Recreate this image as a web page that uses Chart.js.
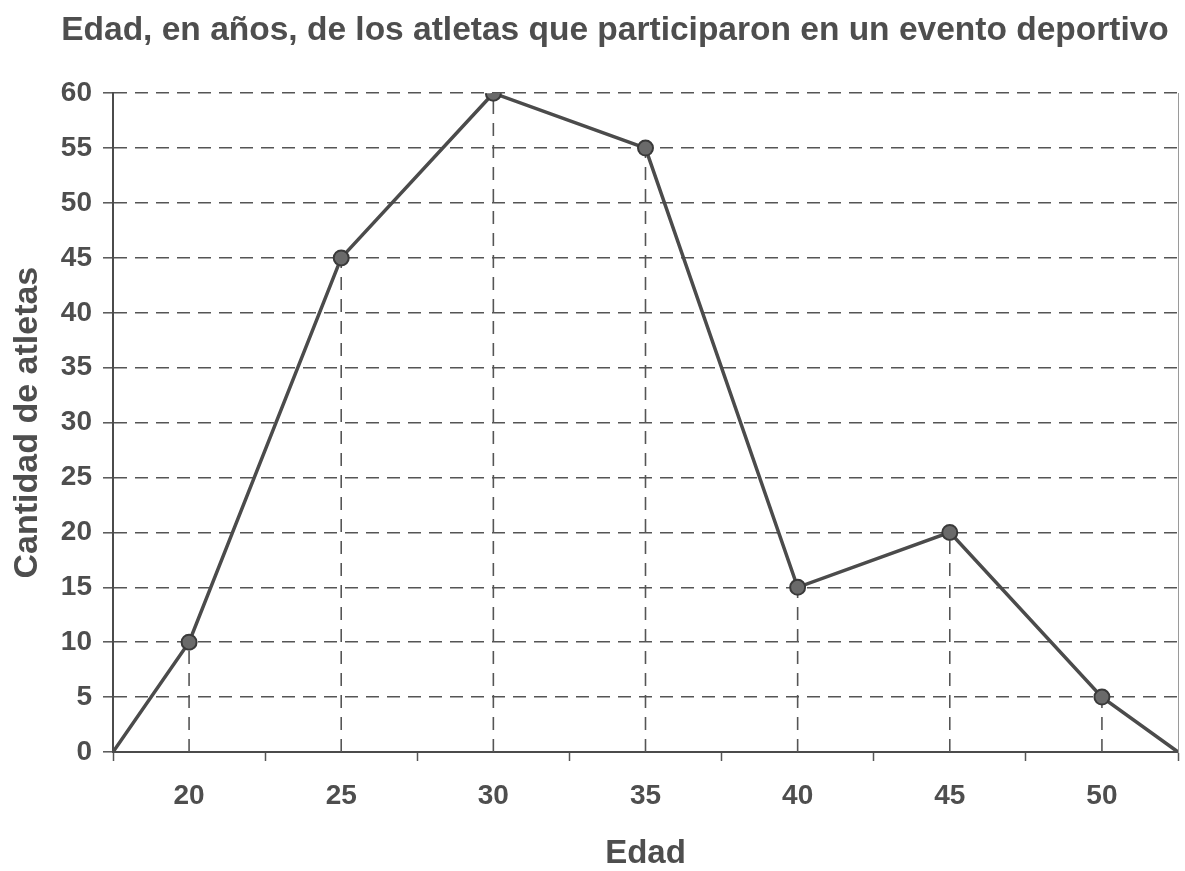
<!DOCTYPE html>
<html>
<head>
<meta charset="utf-8">
<script src="https://cdn.jsdelivr.net/npm/chart.js@4/dist/chart.umd.min.js"></script>
<style>
  html, body { margin: 0; padding: 0; background: #ffffff; }
  #wrap { width: 1185px; height: 871px; }
</style>
</head>
<body>
<div id="wrap"><canvas id="c" width="1185" height="871"></canvas></div>
<script>
// ---- Data ----
const titulo = 'Edad, en años, de los atletas que participaron en un evento deportivo';
const tituloX = 'Edad';
const tituloY = 'Cantidad de atletas';
const edades = [20, 25, 30, 35, 40, 45, 50];          // marcas de clase
const cantidades = [10, 45, 60, 55, 15, 20, 5];       // cantidad de atletas
const extremos = [17.5, 52.5];                        // cierre del polígono (cantidad 0)
const ticksX = [20, 25, 30, 35, 40, 45, 50];
const ticksY = [0, 5, 10, 15, 20, 25, 30, 35, 40, 45, 50, 55, 60];

// ---- Build datasets ----
const poligono = [{x: extremos[0], y: 0}]
  .concat(edades.map((e, i) => ({x: e, y: cantidades[i]})))
  .concat([{x: extremos[1], y: 0}]);

const lineColor = '#4b4b4b';
const gridColor = '#555555';
const textColor = '#4e4e4e';
const FONT = "'Liberation Sans', Arial, Helvetica, sans-serif";

const caidas = edades.map((e, i) => ({
  data: [{x: e, y: 0}, {x: e, y: cantidades[i]}],
  borderColor: gridColor,
  borderWidth: 1.6,
  borderDash: [13, 9],
  pointRadius: 0,
  fill: false,
  order: 2
}));

const datasets = [{
  data: poligono,
  borderColor: lineColor,
  borderWidth: 3.5,
  pointRadius: ctx => (ctx.dataIndex === 0 || ctx.dataIndex === poligono.length - 1) ? 0 : 7.5,
  pointBackgroundColor: '#6a6a6a',
  pointBorderColor: '#3a3a3a',
  pointBorderWidth: 2,
  tension: 0,
  fill: false,
  order: 0
}].concat(caidas);

new Chart(document.getElementById('c'), {
  type: 'line',
  data: { datasets },
  options: {
    responsive: false,
    animation: false,
    layout: { autoPadding: false, padding: { left: 52, right: 7, top: 0, bottom: 0 } },
    plugins: {
      legend: { display: false },
      tooltip: { enabled: false },
      title: {
        display: true,
        text: titulo,
        color: textColor,
        font: { family: FONT, size: 33.5, weight: 'bold' },
        padding: { top: 11, bottom: 42 }
      }
    },
    scales: {
      x: {
        type: 'linear',
        position: 'bottom',
        min: extremos[0],
        max: extremos[1],
        afterBuildTicks: scale => {
          const vals = [extremos[0]];
          ticksX.forEach(t => { vals.push(t); vals.push(t + 2.5); });
          scale.ticks = vals.map(v => ({value: v}));
        },
        afterFit: scale => {
          scale.height = 119;
          scale.paddingLeft = 0;
          scale.paddingRight = 0;
        },
        ticks: {
          autoSkip: false,
          maxRotation: 0,
          color: textColor,
          padding: 18,
          font: { family: FONT, size: 28, weight: 'bold' },
          callback: v => ticksX.includes(v) ? String(v) : ''
        },
        grid: {
          drawOnChartArea: false,
          drawTicks: true,
          tickLength: 9,
          tickWidth: 1.5,
          tickColor: ctx => (ctx.tick && ticksX.includes(ctx.tick.value)) ? 'rgba(0,0,0,0)' : gridColor
        },
        border: { display: true, color: lineColor, width: 2 },
        title: {
          display: true,
          text: tituloX,
          color: textColor,
          font: { family: FONT, size: 33, weight: 'bold' },
          padding: { top: 0, bottom: -3 }
        }
      },
      y: {
        type: 'linear',
        position: 'left',
        min: 0,
        max: 60,
        afterBuildTicks: scale => { scale.ticks = ticksY.map(v => ({value: v})); },
        afterFit: scale => { scale.width = 61; },
        ticks: {
          color: textColor,
          padding: 11,
          font: { family: FONT, size: 28, weight: 'bold' }
        },
        grid: {
          drawOnChartArea: true,
          drawTicks: true,
          tickLength: 10,
          color: gridColor,
          lineWidth: 1.6,
          tickColor: gridColor,
          tickWidth: 1.5,
          tickBorderDash: []
        },
        border: { display: true, color: lineColor, width: 2, dash: [13, 8] },
        title: {
          display: true,
          text: tituloY,
          color: textColor,
          font: { family: FONT, size: 34, weight: 'bold' },
          padding: { top: -45, bottom: 0 }
        }
      },
      yDerecha: {
        type: 'linear',
        position: 'right',
        min: 0,
        max: 60,
        afterFit: scale => { scale.width = 0; },
        ticks: { display: false },
        grid: { drawOnChartArea: false, drawTicks: false },
        border: { display: true, color: '#9a9a9a', width: 1 }
      }
    }
  }
});
</script>
</body>
</html>
